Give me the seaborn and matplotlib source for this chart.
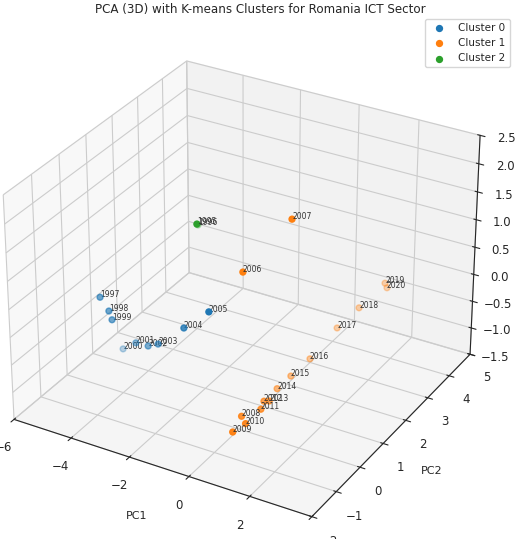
import matplotlib
matplotlib.use("Agg")
import matplotlib.pyplot as plt
import seaborn as sns
import numpy as np

years = [1995, 1996, 1997, 1998, 1999, 2000, 2001, 2002, 2003, 2004, 2005, 2006, 2007,
         2008, 2009, 2010, 2011, 2012, 2013, 2014, 2015, 2016, 2017, 2018, 2019, 2020]
clusters = [2, 2, 0, 0, 0, 0, 0, 0, 0, 0, 0, 1, 1,
            1, 1, 1, 1, 1, 1, 1, 1, 1, 1, 1, 1, 1]
pc1 = [-2.24, -2.22, -3.79, -3.50, -3.40, -3.97, -3.06, -2.46, -2.12, -0.98, 0.02, -0.70, 0.12,
       -0.07, 0.13, 0.23, 0.23, 0.09, 0.22, -0.06, 0.05, 0.26, 0.59, 1.01, 1.44, 1.49]
pc2 = [1.0, 1.02, -1.0, -1.0, -1.0, 0.0, -0.5, -0.7, -0.7, -1.0, -1.2, 1.0, 2.0,
       0.18, -0.42, -0.02, 0.61, 0.91, 0.97, 1.65, 2.10, 2.66, 3.42, 3.84, 4.43, 4.46]
pc3 = [1.46, 1.44, 0.68, 0.48, 0.34, -0.68, -0.22, -0.10, -0.01, 0.58, 1.10, 0.84, 1.53,
       -1.35, -1.35, -1.35, -1.35, -1.35, -1.35, -1.45, -1.38, -1.25, -0.92, -0.64, -0.34, -0.43]

sns.set_style("white")
plt.rcParams['font.family'] = ['DejaVu Sans']
pal = sns.color_palette("tab10")

fig = plt.figure(figsize=(5.2, 5.39), dpi=100)
ax = fig.add_subplot(111, projection='3d')
x = np.array(pc1); y = np.array(pc2); z = np.array(pc3); c = np.array(clusters)
for k in range(3):
    m = c == k
    ax.scatter(x[m], y[m], z[m], color=pal[k], s=18, label=f"Cluster {k}")
for i, yr in enumerate(years):
    ax.text(x[i], y[i], z[i], str(yr), fontsize=5.5, color='#333333')
ax.set_xlabel("PC1", fontsize=8)
ax.set_ylabel("PC2", fontsize=8)
ax.set_zlabel("PC3", fontsize=8)
ax.set_xlim(-6, 4); ax.set_ylim(-2, 5); ax.set_zlim(-1.5, 2.5)
ax.set_xticks([-6, -4, -2, 0, 2, 4])
ax.set_yticks([-2, -1, 0, 1, 2, 3, 4, 5])
ax.set_zticks([-1.5, -1.0, -0.5, 0.0, 0.5, 1.0, 1.5, 2.0, 2.5])
ax.tick_params(labelsize=8.5)
ax.set_position([-0.05, -0.0386, 1.0196, 1.0196])
fig.suptitle("PCA (3D) with K-means Clusters for Romania ICT Sector", fontsize=8.6, y=0.995)
ax.legend(loc='upper right', fontsize=7.5, bbox_to_anchor=(0.99, 0.975), bbox_transform=fig.transFigure)
fig.savefig("out.png", dpi=100)
